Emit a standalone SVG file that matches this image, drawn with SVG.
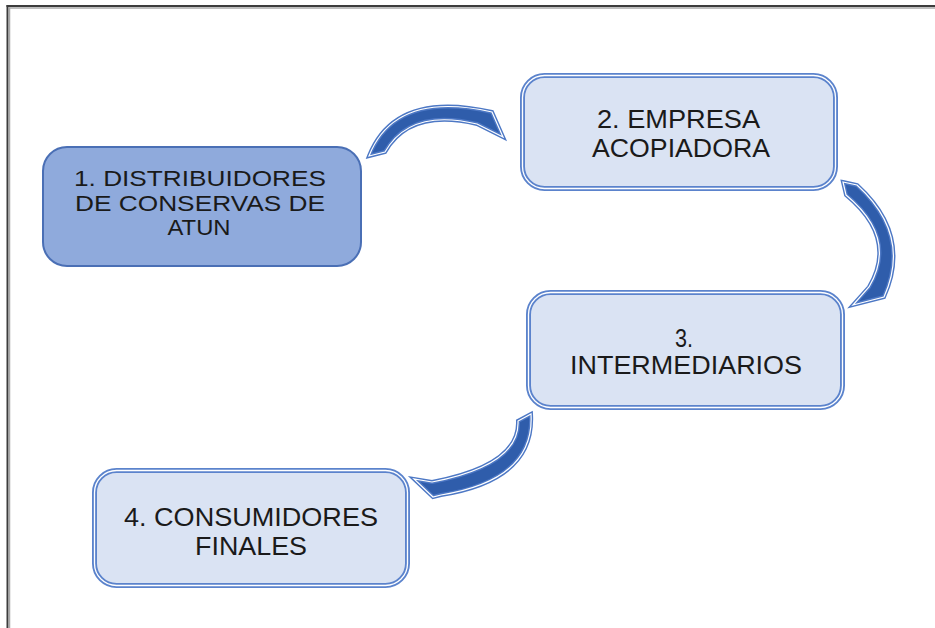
<svg xmlns="http://www.w3.org/2000/svg" width="935" height="628" viewBox="0 0 935 628">
<style>
.frame-dark{stroke:#3c3c3c;stroke-width:2;fill:none}
.frame-light{stroke:#a8a8a8;stroke-width:1.5;fill:none}
.box1{fill:#8faadc;stroke:#4a6fb5;stroke-width:2}
.boxo{fill:#dae3f3;stroke:#5b83cc;stroke-width:5}
.boxi{fill:none;stroke:#ffffff;stroke-width:1.3}
.lbl{font-family:"Liberation Sans",Arial,sans-serif;font-size:26px;fill:#1a1a1a;text-anchor:middle}
.lbl1{font-size:22.5px}
.arw{fill:#2f5dab;stroke:#4d78c5;stroke-width:4;stroke-linejoin:miter}
.arwi{fill:none;stroke:#ffffff;stroke-width:1.2;stroke-linejoin:miter}
</style>
<rect x="0" y="0" width="935" height="628" fill="#ffffff"/>
<g id="frame">
<line class="frame-dark" x1="7.5" y1="5" x2="7.5" y2="628"/>
<line class="frame-dark" x1="6.5" y1="6" x2="935" y2="6"/>
<line class="frame-light" x1="9.5" y1="7.5" x2="9.5" y2="628"/>
<line class="frame-light" x1="9" y1="8" x2="935" y2="8"/>
</g>
<g id="connectors">
<g id="arrow-1-2">
<path class="arw" d="M369,156 Q395,90 492,112 L503,137 L477,124 Q410,108 385,152 Z"/>
<path class="arwi" d="M369,156 Q395,90 492,112 L503,137 L477,124 Q410,108 385,152 Z"/>
</g>
<g id="arrow-2-3">
<path class="arw" d="M843,182 L857,185 Q912,235 884,297 L853,305 L869,287 Q898,238 846,195 Z"/>
<path class="arwi" d="M843,182 L857,185 Q912,235 884,297 L853,305 L869,287 Q898,238 846,195 Z"/>
</g>
<g id="arrow-3-4">
<path class="arw" d="M531,414 Q535,480 441,495 L433,497 L414,479 L432,482 Q520,465 518,421 Z"/>
<path class="arwi" d="M531,414 Q535,480 441,495 L433,497 L414,479 L432,482 Q520,465 518,421 Z"/>
</g>
</g>
<g id="node1">
<rect class="box1" x="43" y="147" width="318" height="119" rx="24"/>
<text class="lbl lbl1" x="200" y="186" textLength="252" lengthAdjust="spacingAndGlyphs">1. DISTRIBUIDORES</text>
<text class="lbl lbl1" x="200" y="210.5" textLength="250" lengthAdjust="spacingAndGlyphs">DE CONSERVAS DE</text>
<text class="lbl lbl1" x="199" y="235" textLength="63" lengthAdjust="spacingAndGlyphs">ATUN</text>
</g>
<g id="node2">
<rect class="boxo" x="522.5" y="75.5" width="313" height="113" rx="22"/>
<rect class="boxi" x="522.5" y="75.5" width="313" height="113" rx="22"/>
<text class="lbl" x="678.5" y="128" textLength="163" lengthAdjust="spacingAndGlyphs">2. EMPRESA</text>
<text class="lbl" x="681" y="157" textLength="178" lengthAdjust="spacingAndGlyphs">ACOPIADORA</text>
</g>
<g id="node3">
<rect class="boxo" x="528.5" y="292.5" width="314" height="115" rx="22"/>
<rect class="boxi" x="528.5" y="292.5" width="314" height="115" rx="22"/>
<text class="lbl" x="684" y="346.5" textLength="18" lengthAdjust="spacingAndGlyphs">3.</text>
<text class="lbl" x="686" y="374.3" textLength="232" lengthAdjust="spacingAndGlyphs">INTERMEDIARIOS</text>
</g>
<g id="node4">
<rect class="boxo" x="94.5" y="470.5" width="313" height="115" rx="22"/>
<rect class="boxi" x="94.5" y="470.5" width="313" height="115" rx="22"/>
<text class="lbl" x="251" y="526" textLength="254" lengthAdjust="spacingAndGlyphs">4. CONSUMIDORES</text>
<text class="lbl" x="251" y="555" textLength="112" lengthAdjust="spacingAndGlyphs">FINALES</text>
</g>
</svg>
